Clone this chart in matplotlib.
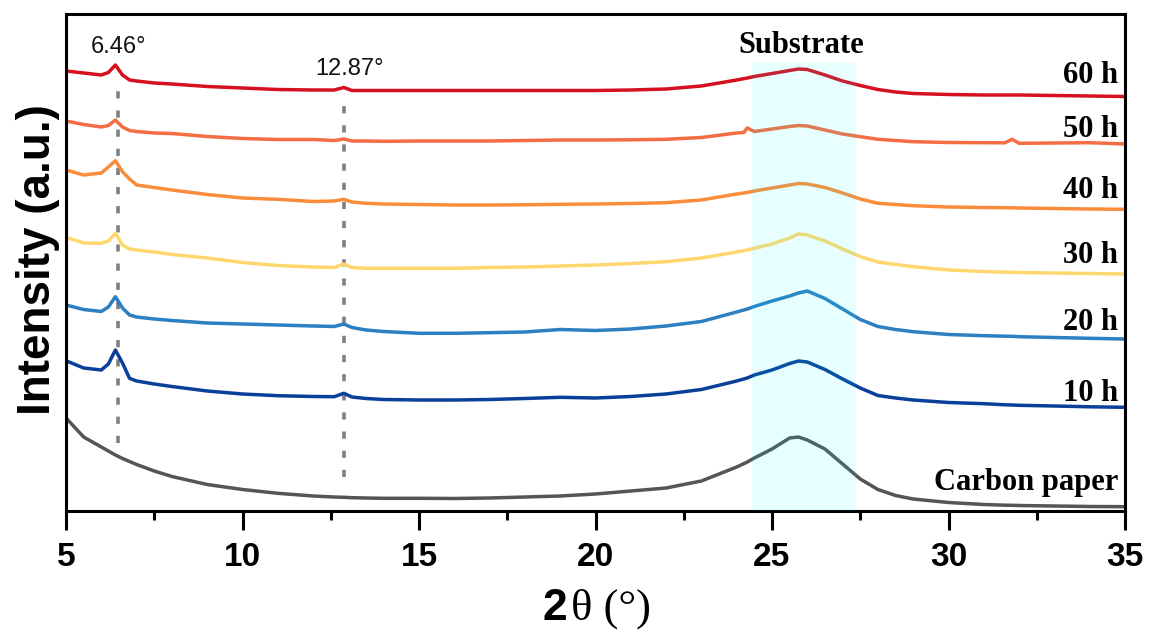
import matplotlib
matplotlib.use("Agg")
import matplotlib.pyplot as plt
from matplotlib.ticker import MultipleLocator

# 2-theta sampling positions (degrees)
two_theta = [5.0, 5.5, 6.0, 6.2, 6.4, 6.6, 6.8, 7.0, 7.5, 8.0,
             9.0, 10.0, 11.0, 12.0, 12.6, 12.87, 13.1, 13.5, 14.0, 15.0,
             16.0, 17.0, 18.0, 19.0, 20.0, 21.0, 22.0, 23.0, 24.0, 24.2,
             24.3, 24.5, 25.0, 25.5, 25.75, 26.0, 26.5, 27.0, 27.5, 28.0,
             28.5, 29.0, 30.0, 31.0, 31.6, 31.8, 32.0, 33.0, 34.0, 35.0]

# Stacked intensities (a.u.), offset per sample
i_60h = [440, 438, 436, 438.5, 446, 436, 431, 430, 428, 427,
         424.5, 423, 421.5, 421, 421, 423.5, 420.5, 420.5, 420.5, 420.5,
         420.5, 420.5, 420.5, 420.5, 420.5, 421, 422, 425, 431, 432.3,
         433, 434.5, 437.5, 440.5, 442, 441.5, 436, 430, 425.5, 421.5,
         419, 417.5, 416.5, 416, 416, 416, 416, 415.5, 415, 414.5]
i_50h = [390, 386.5, 384, 385.5, 391, 384, 380.5, 379.5, 378, 377.5,
         374.5, 372.5, 371.5, 371.5, 370.5, 372, 370, 370, 369.7, 370,
         370, 370, 370.5, 371, 371, 371.2, 371.7, 373.5, 378, 378.5,
         383, 379.5, 382, 384.5, 385.5, 385, 381, 377, 374.3, 371.7,
         370.5, 369.3, 368.5, 368.3, 368.2, 371.7, 367.7, 368, 368.3, 367]
i_40h = [341, 336, 338, 344, 350.3, 339.3, 332, 326, 323.5, 321,
         316.5, 313, 311.7, 309.5, 310, 311.7, 309, 307.7, 307, 306.5,
         306, 306, 306.2, 306.7, 307, 307.5, 308.3, 311, 317, 318,
         318.5, 320, 323, 326, 327.5, 327, 323.5, 318, 312, 307.7,
         306.5, 305.3, 304, 303.5, 303.3, 303.2, 303, 302.5, 302, 301.7]
i_30h = [273.7, 268, 267.7, 270, 277.7, 266, 262, 261, 259, 256.5,
         253, 248.5, 245.5, 244, 243.5, 247, 243.5, 242.7, 242.7, 242.7,
         242.7, 243.5, 244, 245, 246, 247.5, 249.3, 253, 259, 260.3,
         261, 262.7, 267, 273, 277, 276, 270, 262, 254.3, 249,
         246.5, 244.3, 241, 239.5, 238.8, 238.7, 238.5, 238, 237.5, 237]
i_20h = [206, 201.5, 199.5, 204, 214.3, 203, 196, 194, 192, 190.5,
         188, 187, 186, 185, 184.5, 187, 183.5, 181, 179.5, 177.7,
         177.7, 178.3, 179, 181.5, 180.5, 182, 185, 189.5, 199, 201,
         202, 204.5, 210, 215, 218, 220, 212.5, 202, 191.5, 184.5,
         181.5, 179.3, 176.5, 175.3, 174.8, 174.7, 174.3, 173.5, 172.7, 172]
i_10h = [150.3, 143, 141, 147, 161, 148, 132.7, 130, 127, 124.5,
         120, 117, 115.3, 114.5, 114.3, 117.7, 114, 112.5, 111.5, 111,
         111, 111.5, 112.5, 113.7, 113, 114.5, 117, 121.5, 130, 132,
         133, 136, 141, 147.5, 150, 149, 141.5, 132, 123, 115.5,
         113, 111, 108.5, 107.3, 106.2, 106, 105.7, 105, 104.2, 103.7]
i_carbon = [93, 74, 64, 60, 56, 52.5, 49.5, 46.5, 40, 34.5,
            26.5, 21.5, 17.7, 15, 14, 13.7, 13.3, 13, 12.7, 12.7,
            12.5, 13, 14, 15, 17, 20, 23, 30, 44, 47.3,
            49, 53, 62, 73, 74, 71, 62, 47, 32, 21.5,
            15.5, 12, 8.5, 6.5, 5.8, 5.7, 5.5, 5, 4.5, 4.3]

series = [i_60h, i_50h, i_40h, i_30h, i_20h, i_10h, i_carbon]
series_labels = ["60 h", "50 h", "40 h", "30 h", "20 h", "10 h", "Carbon paper"]
series_colors = ["#d7101f", "#f46d43", "#fa8c3c", "#fed86e", "#2c7fc1", "#0a3f9a", "#555555"]

# Characteristic reflections and substrate band
peak_positions = [6.46, 12.87]
peak_labels = ["6.46°", "12.87°"]
substrate_range = (24.44, 27.37)

# layout (data units)
label_baselines = [427.7, 374.3, 312.7, 248.3, 181, 110, 21]
peak_line_spans = [(68, 422), (34, 406)]
peak_label_pos = [(6.49, 458), (13.02, 436)]

SANS = "Liberation Sans"
SERIF = "Liberation Serif"

W, H = 1150, 635
fig = plt.figure(figsize=(W / 100, H / 100), dpi=100)
ax = fig.add_axes([66 / W, 1 - 511 / H, (1125 - 66) / W, (511 - 14) / H])

for y, c in zip(series, series_colors):
    ax.plot(two_theta, y, color=c, lw=2.5, solid_joinstyle="round", zorder=2)

for x, (y0, y1) in zip(peak_positions, peak_line_spans):
    ax.plot([x, x], [y0, y1], color="#808080", lw=2.6, dashes=(2.0, 3.3), zorder=1)

for (x, y), t in zip(peak_label_pos, peak_labels):
    ax.text(x, y, t, ha="center", va="baseline", fontsize=17, family=SANS, color="#111111")

ax.axvspan(substrate_range[0], substrate_range[1], ymin=0, ymax=448.3 / 497,
           color="#00ffff", alpha=0.09, lw=0, zorder=3)
ax.text(sum(substrate_range) / 2 - 0.08, 458, "Substrate", ha="center", va="baseline",
        fontsize=22, family=SERIF, fontweight="bold", zorder=4)

for t, yb in zip(series_labels, label_baselines):
    ax.text(34.8, yb, t, ha="right", va="baseline", fontsize=22,
            family=SERIF, fontweight="bold", zorder=4)

ax.set_xlim(5, 35)
ax.set_ylim(0, 497)
ax.xaxis.set_major_locator(MultipleLocator(5))
ax.xaxis.set_minor_locator(MultipleLocator(2.5))
ax.set_yticks([])
ax.tick_params(axis="x", which="major", direction="out", length=13.5, width=2.2,
               labelsize=24, pad=9)
ax.tick_params(axis="x", which="minor", direction="out", length=6.5, width=2.2)
for lab in ax.get_xticklabels():
    lab.set_family(SANS)
    lab.set_fontweight("bold")
for sp in ax.spines.values():
    sp.set_linewidth(2.2)

# axis titles
fig.text(38 / W, 1 - 260 / H, "Intensity (a.u.)", rotation=90, ha="center", va="center",
         fontsize=33, family=SANS, fontweight="bold")
fig.text(567 / W, 1 - 620 / H, "2", ha="right", va="baseline",
         fontsize=32, family=SANS, fontweight="bold")
fig.text(571 / W, 1 - 620 / H, "θ (°)", ha="left", va="baseline",
         fontsize=32, family=SERIF)

fig.savefig("out.png", dpi=100)
